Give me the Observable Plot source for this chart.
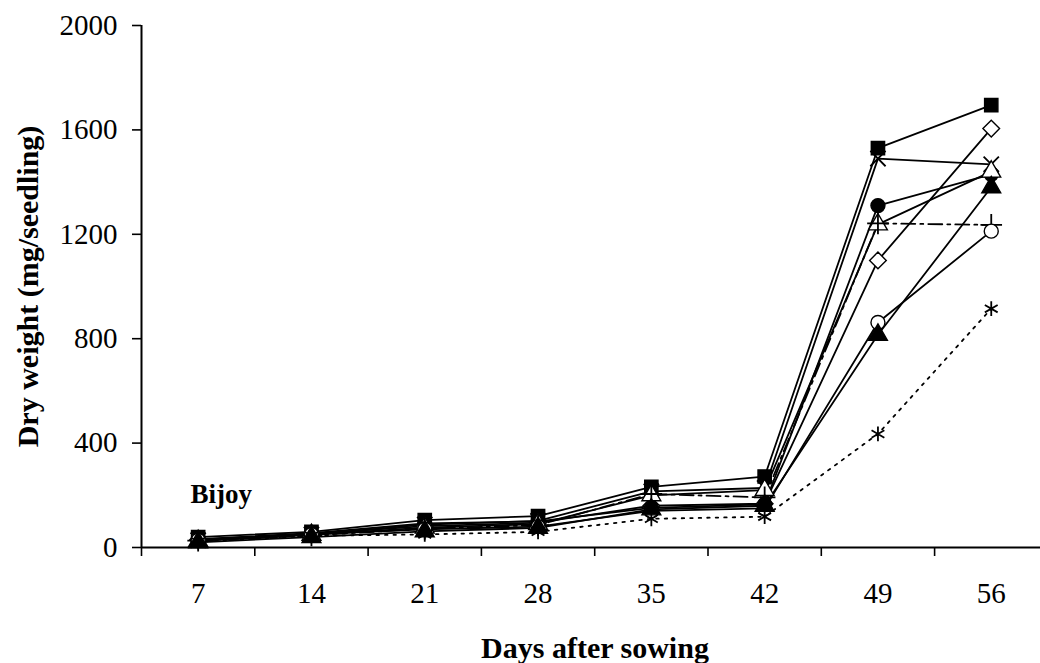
<!DOCTYPE html>
<html><head><meta charset="utf-8">
<script src="https://cdn.jsdelivr.net/npm/d3@7"></script>
<script src="https://cdn.jsdelivr.net/npm/@observablehq/plot@0.6"></script>
<style>html,body{margin:0;padding:0;background:#fff;overflow:hidden} svg{display:block}</style>
</head><body><div id="chart"></div>
<script>
// Days after sowing (categories)
const days = [7, 14, 21, 28, 35, 42, 49, 56];
const yTicks = [0, 400, 800, 1200, 1600, 2000];

// Dry weight (mg/seedling), one array per treatment series
const filledSquare   = [40, 60, 105, 120, 232, 272, 1530, 1695];
const openDiamond    = [30, 52, 82, 95, 160, 168, 1100, 1605];
const crossX         = [28, 50, 88, 102, 215, 228, 1490, 1468];
const filledCircle   = [32, 55, 92, 100, 152, 165, 1310, 1430];
const openTriangle   = [25, 48, 76, 90, 200, 220, 1238, 1440];
const plusDashDot    = [26, 46, 72, 86, 205, 192, 1242, 1236];
const openCircle     = [28, 50, 70, 80, 140, 150, 862, 1212];
const filledTriangle = [20, 40, 62, 75, 146, 160, 815, 1380];
const asteriskDotted = [22, 45, 50, 60, 110, 118, 435, 915];

const series = [
  {name: "filledSquare",   values: filledSquare,   symbol: "square",   fill: "black", dash: null},
  {name: "openDiamond",    values: openDiamond,    symbol: "diamond2", fill: "white", dash: null},
  {name: "crossX",         values: crossX,         symbol: "times",    fill: "none",  dash: null},
  {name: "filledCircle",   values: filledCircle,   symbol: "circle",   fill: "black", dash: null},
  {name: "openTriangle",   values: openTriangle,   symbol: "triangle", fill: "white", dash: null},
  {name: "plusDashDot",    values: plusDashDot,    symbol: "plus",     fill: "none",  dash: "14,5,3,5"},
  {name: "openCircle",     values: openCircle,     symbol: "circle",   fill: "white", dash: null},
  {name: "filledTriangle", values: filledTriangle, symbol: "triangle", fill: "black", dash: null},
  {name: "asteriskDotted", values: asteriskDotted, symbol: "asterisk", fill: "none",  dash: "2.5,6"}
];

const rows = s => days.map((d, i) => ({day: d, value: s.values[i]}));
const half = (days[1] - days[0]) / 2;
const edges = days.map(d => d - half);

const marks = [];
for (const s of series) {
  marks.push(Plot.line(rows(s), {x: "day", y: "value", stroke: "black", strokeWidth: 1.8,
    strokeDasharray: s.dash ?? undefined}));
}
for (const s of series) {
  const r = s.symbol === "square" ? 7.5 : s.symbol === "diamond2" ? 7.5 : 7;
  marks.push(Plot.dot(rows(s), {x: "day", y: "value", symbol: s.symbol, r,
    fill: s.fill, stroke: "black", strokeWidth: s.fill === "none" ? 1.8 : 1.4}));
}

const chart = Plot.plot({
  width: 1040,
  height: 663,
  marginLeft: 141,
  marginRight: 0,
  marginTop: 25,
  marginBottom: 116,
  style: {fontFamily: "'Liberation Serif', 'Times New Roman', serif", fontSize: "29px", color: "black", background: "white"},
  x: {type: "linear", domain: [days[0] - half, days[days.length - 1] + half], range: [141, 141 + days.length * 113.3]},
  y: {domain: [0, 2000], range: [547, 25]},
  marks: [
    Plot.axisY({ticks: yTicks, tickSize: 9, tickPadding: 15, tickFormat: d => String(d), label: null, strokeWidth: 1.6}),
    Plot.axisX({ticks: edges, tickSize: 9, tickFormat: () => "", label: null, strokeWidth: 1.6}),
    Plot.axisX({ticks: days, tickSize: 0, tickPadding: 35, tickFormat: d => String(d), label: null}),
    Plot.ruleX([days[0] - half], {stroke: "black", strokeWidth: 2}),
    Plot.ruleY([0], {stroke: "black", strokeWidth: 2}),
    ...marks,
    Plot.text(["Bijoy"], {frameAnchor: "bottom-left", dx: 49, dy: -53, textAnchor: "start", lineAnchor: "middle", fontWeight: "bold", fontSize: 27}),
    Plot.text(["Dry weight (mg/seedling)"], {frameAnchor: "left", dx: -113, rotate: -90, textAnchor: "middle", lineAnchor: "middle", fontWeight: "bold", fontSize: 30}),
    Plot.text(["Days after sowing"], {frameAnchor: "bottom", dx: 4, dy: 101, textAnchor: "middle", lineAnchor: "middle", fontWeight: "bold", fontSize: 30})
  ]
});
document.getElementById("chart").append(chart);
</script>
</body></html>
